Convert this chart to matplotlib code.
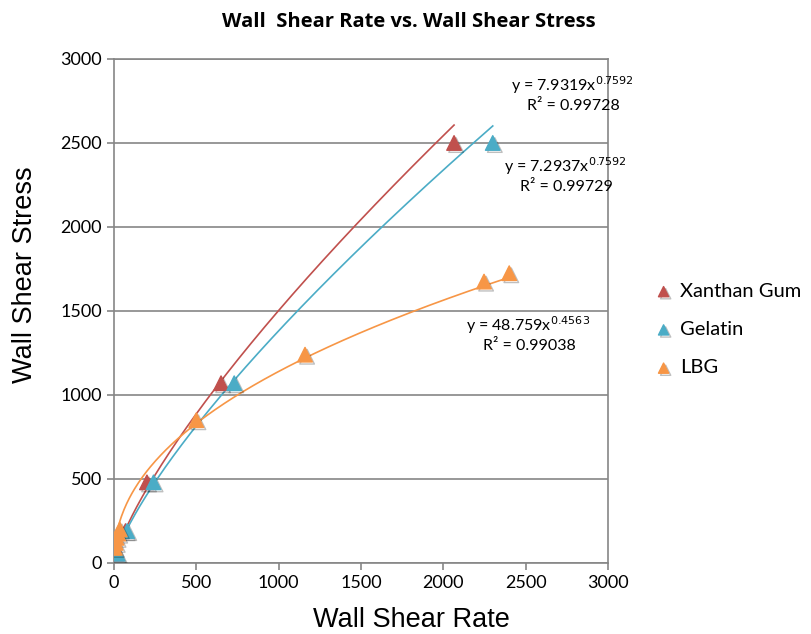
import numpy as np
import matplotlib.pyplot as plt
import matplotlib.patheffects as pe

# data
xanthan_rate = [15, 70, 200, 650, 2065]
xanthan_stress = [55, 190, 480, 1070, 2500]
gelatin_rate = [22, 80, 240, 730, 2300]
gelatin_stress = [55, 190, 480, 1070, 2500]
lbg_rate = [5, 10, 15, 25, 35, 500, 1160, 2247, 2400]
lbg_stress = [90, 120, 150, 175, 200, 850, 1240, 1675, 1725]

# power-law trendlines y = a * x^b
fits = {
    "xanthan": (7.9319, 0.7592, 0.99728),
    "gelatin": (7.2937, 0.7592, 0.99729),
    "lbg": (48.759, 0.4563, 0.99038),
}

red = "#C0504D"
blue = "#4BACC6"
orange = "#F79646"

fig = plt.figure(figsize=(8.12, 6.34), dpi=100)
ax = fig.add_axes([0.1404, 0.112, 0.6084, 0.795])

shadow = [pe.SimpleLineShadow(offset=(1.5, -1.5), alpha=0.25), pe.Normal()]

series = [
    ("Xanthan Gum", xanthan_rate, xanthan_stress, red, "xanthan"),
    ("Gelatin", gelatin_rate, gelatin_stress, blue, "gelatin"),
    ("LBG", lbg_rate, lbg_stress, orange, "lbg"),
]
for label, xs, ys, col, key in series:
    a, b, r2 = fits[key]
    xx = np.linspace(min(xs), max(xs), 300)
    ax.plot(xx, a * xx ** b, color=col, lw=1.2, zorder=2)
for label, xs, ys, col, key in series:
    ax.scatter(xs, ys, marker="^", s=110, color=col, label=label, zorder=3,
               path_effects=shadow)

ax.set_xlim(0, 3000)
ax.set_ylim(0, 3000)
ax.set_xticks(range(0, 3001, 500))
ax.set_yticks(range(0, 3001, 500))
ax.yaxis.grid(True, color="#868686", lw=1.2)
ax.set_axisbelow(True)
for s in ax.spines.values():
    s.set_color("#868686")
    s.set_linewidth(1.2)
ax.tick_params(axis="both", labelsize=13, color="#868686", length=5, width=1.2)
for t in ax.get_xticklabels() + ax.get_yticklabels():
    t.set_fontfamily("Lato")

fig.text(411 / 812, 1 - 620 / 634, "Wall Shear Rate", ha="center", va="center",
         fontsize=19.5, family="Liberation Sans")
fig.text(25 / 812, 1 - 275 / 634, "Wall Shear Stress", ha="center", va="center",
         rotation=90, fontsize=19.5, family="Liberation Sans")
fig.text(409 / 812, 0.966, "Wall  Shear Rate vs. Wall Shear Stress", ha="center",
         va="center", fontsize=14.5, fontweight="bold", family="Open Sans")

# trendline equations
eq_pos = {"xanthan": (572, 85), "gelatin": (565, 166), "lbg": (528, 325)}
for key, (px, py) in eq_pos.items():
    a, b, r2 = fits[key]
    fx, fy = px / 812, 1 - py / 634
    fig.text(fx, fy, "y = %sx$^{%s}$" % (a, b), ha="center", va="center",
             fontsize=11.5, family="Lato")
    fig.text(fx + 0.002, fy - 0.033, "R² = %s" % r2, ha="center", va="center",
             fontsize=11.5, family="Lato")

leg = ax.legend(loc="center left", bbox_to_anchor=(1.035, 0.463), frameon=False,
                prop={"family": "Lato", "size": 14.5}, handletextpad=-0.2,
                labelspacing=1.05, markerscale=0.7)

fig.savefig("out.png", dpi=100)
